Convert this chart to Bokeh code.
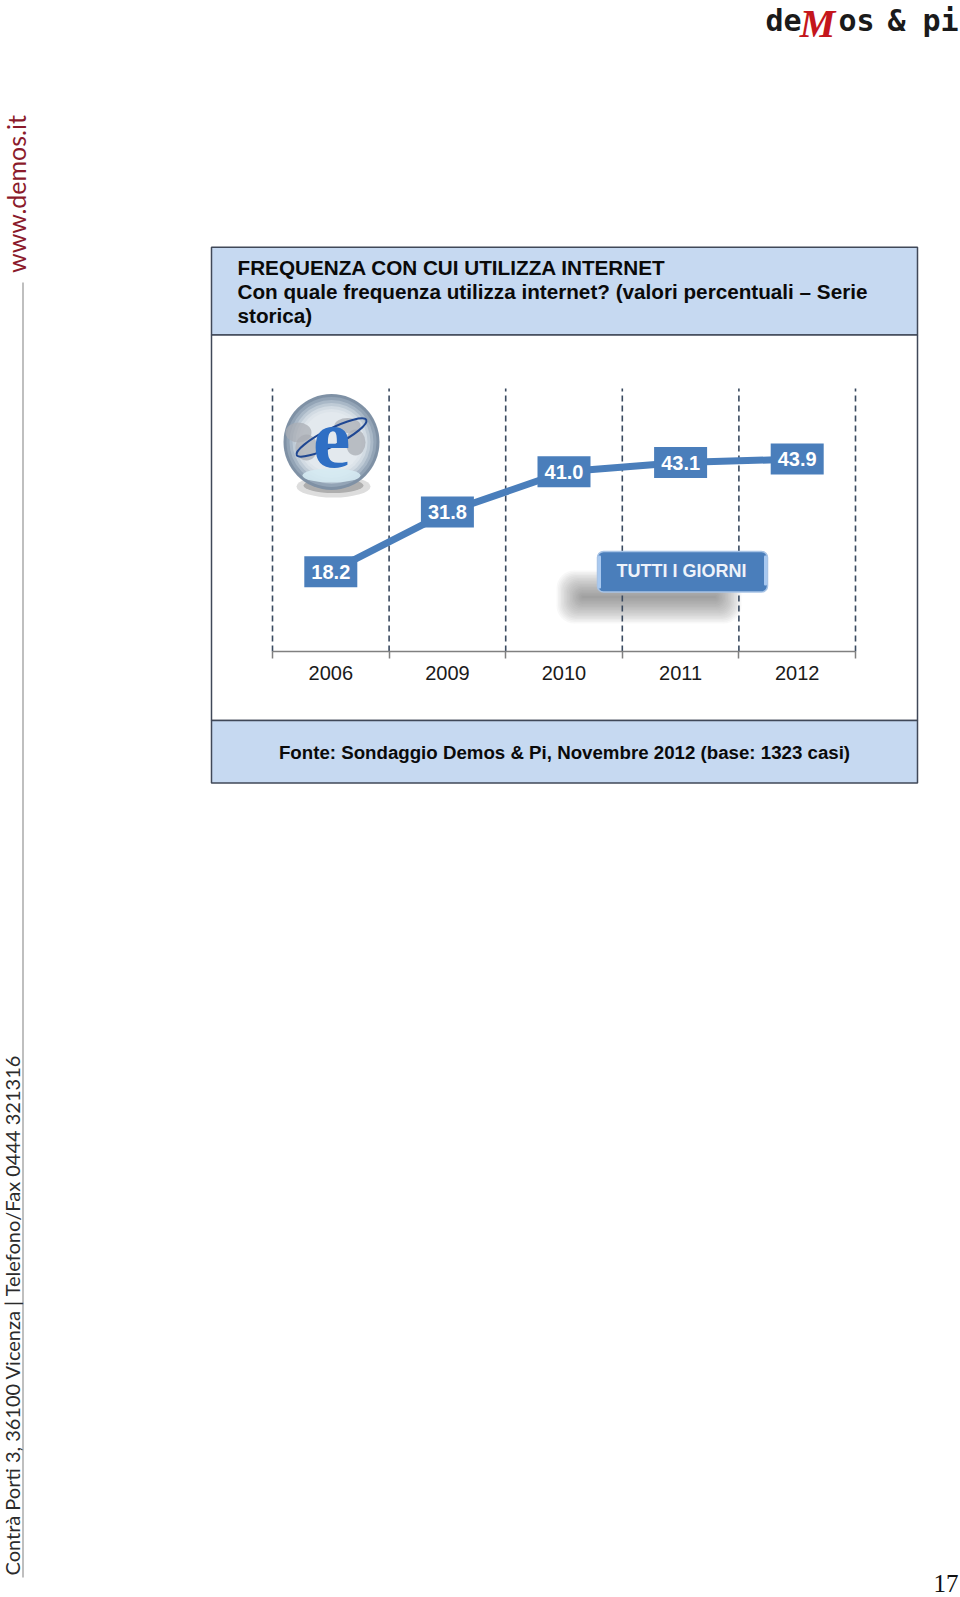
from bokeh.plotting import figure
from bokeh.models import FixedTicker, Range1d, LinearAxis
from bokeh.core.properties import value
from bokeh.embed import file_html
from bokeh.resources import INLINE

# ---- data -------------------------------------------------------------
years = ["2006", "2009", "2010", "2011", "2012"]
values = [18.2, 31.8, 41.0, 43.1, 43.9]
value_labels = ["18.2", "31.8", "41.0", "43.1", "43.9"]
title_lines = ["FREQUENZA CON CUI UTILIZZA INTERNET",
               "Con quale frequenza utilizza internet? (valori percentuali \u2013 Serie",
               "storica)"]
source_text = "Fonte: Sondaggio Demos & Pi, Novembre 2012 (base: 1323 casi)"
badge_text = "TUTTI I GIORNI"
side_url = "www.demos.it"
side_address = "Contr\u00e0 Porti 3, 36100 Vicenza | Telefono/Fax 0444 321316"
page_number = "17"

# ---- layout: the frame fills the canvas; page pixels map linearly to data
W, H = 960, 1597
X0, XU = 272.0, 116.6     # page px of first category edge, px per category
Y0, YU = 651.0, 263 / 60  # page px of value 0, px per value unit
BLUE = "#4a7ebb"
PANEL = "#c6d9f1"
SANS = "Liberation Sans"

edges = list(range(len(years) + 1))
centers = [i + 0.5 for i in range(len(years))]


def dx(px):
    return (px - X0) / XU


def dy(py):
    return (Y0 - py) / YU


p = figure(width=W, height=H, output_backend="svg", toolbar_location=None,
           x_range=Range1d(dx(0), dx(W)), y_range=Range1d(dy(H), dy(0)),
           x_axis_location=None, y_axis_location=None,
           min_border=0, background_fill_color="white", border_fill_color="white",
           outline_line_color=None)
p.grid.visible = False


def box(l, t, r, b, color, alpha=1.0, line=None, lw=1.5, radius=0):
    p.quad(left=[dx(l)], right=[dx(r)], top=[dy(t)], bottom=[dy(b)],
           fill_color=color, fill_alpha=alpha, line_color=line, line_width=lw,
           border_radius=int(radius))


def label(x, y, text, size, color="black", font=SANS, style="normal", align="left",
          angle=0):
    p.text([dx(x)], [dy(y)], text=[text], text_font=value(font), text_font_size=f"{size}px",
           text_font_style=style, text_color=color, text_align=align,
           text_baseline="middle", angle=angle, angle_units="deg")


# header / source panels
box(211, 246.7, 917, 334.5, PANEL, line="#404858")
box(211, 334.5, 917, 720, "white", line="#404858")
box(211, 720, 917, 782.5, PANEL, line="#404858")
for txt, yy in zip(title_lines, [267, 290.5, 315]):
    label(237, yy, txt, 20.7, style="bold", color="#0a0a0a")
label(564, 752, source_text, 18.7, style="bold", align="center", color="#0a0a0a")

# button shadow (soft, stacked)
for i in range(18):
    box(556 + i * 1.5, 570 + i * 1.5, 741 - i * 1.5, 623 - i * 1.5, "#555555", alpha=0.045,
        radius=18 - i * 0.8)

# dashed separators
p.segment(x0=edges, x1=edges, y0=[0] * len(edges), y1=[60] * len(edges),
          line_color="#3a4a60", line_width=1.6, line_dash="6 4")

# axis drawn on value 0, edge ticks as minor ticks, year labels on centres
ax = LinearAxis(fixed_location=0, ticker=FixedTicker(ticks=centers, minor_ticks=edges))
ax.major_label_overrides = {c: y for c, y in zip(centers, years)}
ax.major_tick_line_color = None
ax.minor_tick_in = 0
ax.minor_tick_out = 7
ax.minor_tick_line_color = "#808080"
ax.minor_tick_line_width = 1.5
ax.axis_line_color = "#808080"
ax.axis_line_width = 1.5
ax.major_label_text_font = SANS
ax.major_label_text_font_size = "20px"
ax.major_label_text_color = "#1a1a1a"
ax.major_label_standoff = 7
ax.bounds = (0, 5)
p.add_layout(ax, "below")

# the series
p.line(centers, values, line_color=BLUE, line_width=7)
p.rect(centers, values, width=53, height=31, width_units="screen", height_units="screen",
       fill_color=BLUE, line_color=None)
p.text(centers, values, text=value_labels, text_color="white",
       text_font=value(SANS), text_font_style="bold", text_font_size="20px",
       text_align="center", text_baseline="middle")

# button
box(597, 551, 767, 591.5, BLUE, line="#a8c4e6", lw=1.5, radius=6)
box(597.5, 555, 600.5, 588, "#a9c9f0", radius=1)
box(763.5, 555, 766.5, 585, "#a9c9f0", radius=1)
label(681, 570, badge_text, 18, color="#eef3fa", style="bold", align="center")

# globe icon
gx, gy = 331, 441.5
p.ellipse([dx(333)], [dy(486)], width=74, height=22, width_units="screen",
          height_units="screen", fill_color="#777777", fill_alpha=0.25, line_color=None)
p.ellipse([dx(333)], [dy(485)], width=60, height=15, width_units="screen",
          height_units="screen", fill_color="#555555", fill_alpha=0.35, line_color=None)
ramp = ["#7f91a5", "#93a4b6", "#a9b8c7", "#bfcbd6", "#d2dbe3", "#dde4ea", "#e3e9ee"]
for i, c in enumerate(ramp):
    r = 48 - i * 3
    p.scatter([dx(gx)], [dy(gy)], size=2 * r, fill_color=c, line_color=None)
for bx, by, bw, bh in [(298, 432, 26, 20), (306, 447, 22, 26), (355, 442, 20, 26), (347, 425, 26, 15)]:
    p.ellipse([dx(bx)], [dy(by)], width=bw, height=bh, width_units="screen", height_units="screen",
              fill_color="#a9aeb4", fill_alpha=0.75, line_color=None)
p.ellipse([dx(331)], [dy(475)], width=58, height=14, width_units="screen", height_units="screen",
          fill_color="#d5eaf2", fill_alpha=0.9, line_color=None)
p.ellipse([dx(331)], [dy(437)], width=78, height=17, angle=0.47, width_units="screen",
          height_units="screen", fill_color=None, line_color="#1f4792", line_width=2)
label(331, 438, "e", 85, color="#2f6fc4", font="Liberation Serif", style="bold", align="center")

# side texts and rules
box(22, 282, 23, 1577, "#808080")
label(15.5, 272.5, side_url, 25, color="#8b1a2b", font="Lato", angle=90)
label(11.5, 1575, side_address, 20, color="#2b2b2b", font="Lato", angle=90)

# logo
LOGO = "DejaVu Sans Mono"
for txt, xx in [("de", 765), ("os", 838), ("&", 887), ("pi", 922)]:
    label(xx, 20, txt, 30, color="#1a1a1a", font=LOGO, style="bold")
label(817, 23, "M", 40, color="#c4161c", font="Liberation Serif", style="bold italic", align="center")

# page number
label(958, 1583, page_number, 25, color="#111111", font="Liberation Serif", align="right")

open("out.html", "w").write(file_html(p, INLINE))
